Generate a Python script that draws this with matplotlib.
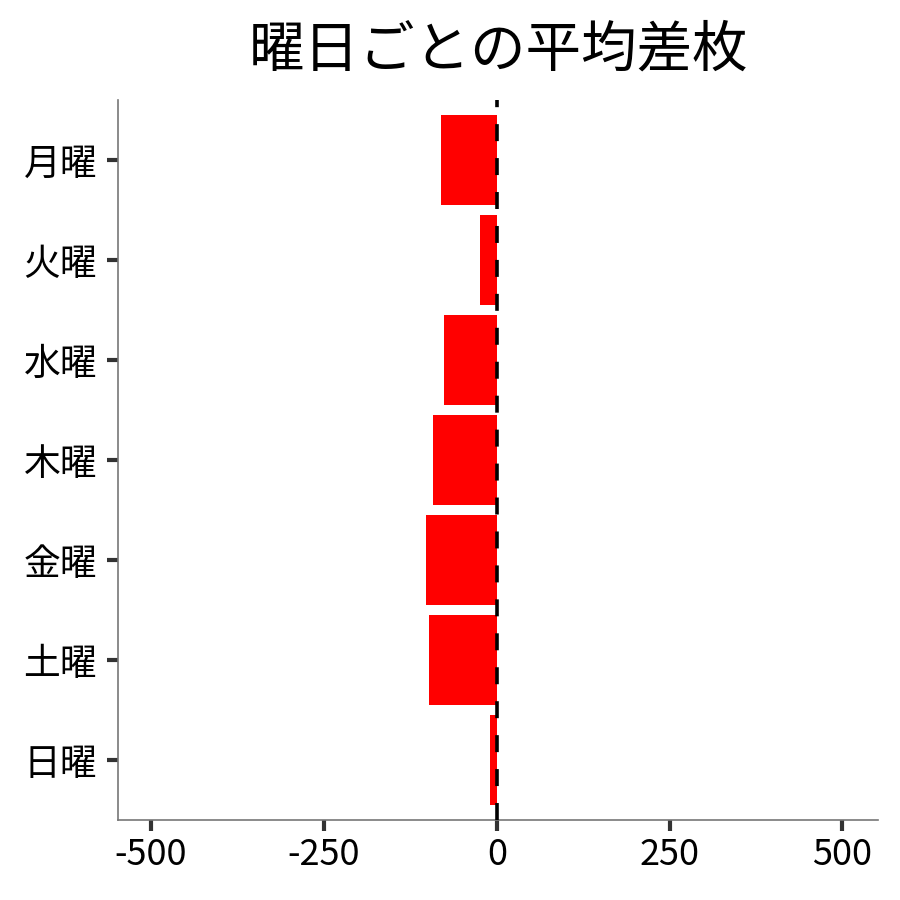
import matplotlib
matplotlib.use("Agg")
import matplotlib.pyplot as plt

plt.rcParams['font.family'] = ['Noto Sans CJK JP', 'DejaVu Sans']

days = ['月曜', '火曜', '水曜', '木曜', '金曜', '土曜', '日曜']
values = [-81, -24, -77, -92, -103, -98, -10]
xticks = [-500, -250, 0, 250, 500]
xticklabels = ['-500', '-250', '0', '250', '500']
title = '曜日ごとの平均差枚'

fig = plt.figure(figsize=(9, 9), dpi=100)
ax = fig.add_axes([0.131, 0.089, 0.845, 0.8])

ypos = list(range(len(days)))
ax.barh(ypos, values, height=0.9, color='#ff0000', zorder=2)
ax.axvline(0, color='black', lw=2.6, linestyle=(0, (4.7, 4.7)), zorder=3)

ax.set_ylim(len(days) - 0.4, -0.6)
ax.set_xlim(-548, 552)
ax.set_yticks(ypos)
ax.set_yticklabels(days, fontsize=26.5)
ax.set_xticks(xticks)
ax.set_xticklabels(xticklabels, fontsize=26)

for s in ['top', 'right']:
    ax.spines[s].set_visible(False)
for s in ['left', 'bottom']:
    ax.spines[s].set_color('#777777')
    ax.spines[s].set_linewidth(1.2)
ax.tick_params(axis='both', length=8, width=3, color='#333333', pad=4)
ax.tick_params(axis='y', pad=7)

ax.set_title(title, fontsize=40, pad=24)

fig.savefig('out.png', dpi=100, facecolor='white')
